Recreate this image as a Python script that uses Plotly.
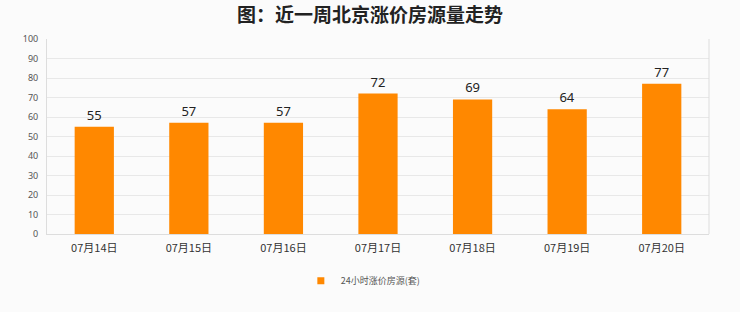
import plotly.graph_objects as go

categories = ["07月14日", "07月15日", "07月16日", "07月17日", "07月18日", "07月19日", "07月20日"]
values = [55, 57, 57, 72, 69, 64, 77]
series_name = "24小时涨价房源(套)"
title = "<b>图：近一周北京涨价房源量走势</b>"
y_ticks = list(range(0, 101, 10))
bar_color = "#FF8800"

fig = go.Figure()
fig.add_trace(go.Bar(
    x=categories, y=values, name=series_name, showlegend=False,
    marker=dict(color=bar_color, line=dict(width=0)),
    text=[str(v) for v in values], textposition="outside",
    textfont=dict(size=13, color="#222", family="Noto Sans"),
    cliponaxis=False,
))
# legend-only entry with a small square symbol
fig.add_trace(go.Scatter(
    x=[None], y=[None], mode="markers", name=series_name,
    marker=dict(symbol="square", size=7, color=bar_color),
))
fig.update_layout(
    width=740, height=312,
    margin=dict(l=47, r=31, t=39, b=78, autoexpand=False),
    paper_bgcolor="#fbfbfb", plot_bgcolor="#fbfbfb",
    title=dict(text=title, x=0.5, xanchor="center", y=0.95, yanchor="middle",
               font=dict(size=19, color="#222", family="Noto Sans CJK SC")),
    bargap=0.585,
    showlegend=True,
    legend=dict(orientation="h", xref="container", x=0.491, xanchor="center",
                yref="container", y=0.10, yanchor="middle",
                font=dict(size=9, color="#555", family="Noto Sans CJK SC"),
                itemwidth=30, bgcolor="rgba(0,0,0,0)"),
    xaxis=dict(showgrid=False, showline=True, linecolor="#dddddd", linewidth=1,
               ticks="", tickfont=dict(size=11, color="#333", family="Noto Sans CJK SC"),
               ticklabelstandoff=4),
    yaxis=dict(range=[0, 100], tickvals=y_ticks, showgrid=True, gridcolor="#e8e8e8",
               showline=True, linecolor="#dddddd", linewidth=1, zeroline=False,
               ticks="", tickfont=dict(size=9, color="#555", family="Noto Sans"),
               ticklabelstandoff=6),
    shapes=[dict(type="line", xref="paper", yref="paper", x0=1, x1=1, y0=0, y1=1,
                 line=dict(color="#dddddd", width=1))],
)
fig.write_html("out.html")
